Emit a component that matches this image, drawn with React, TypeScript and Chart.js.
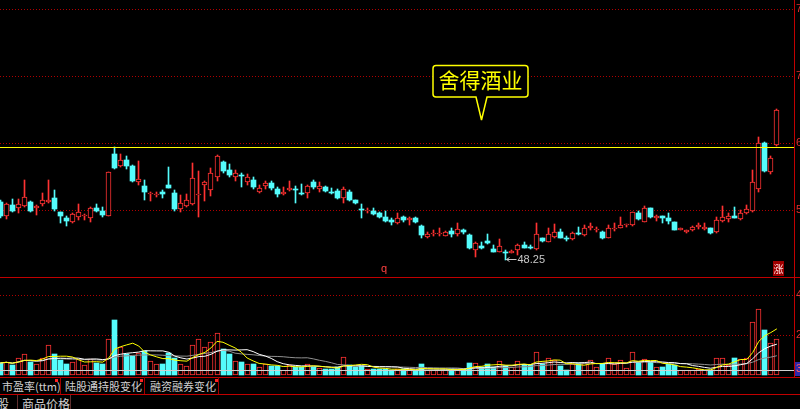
import React, { useEffect, useRef } from 'react';
import { Chart, registerables } from 'chart.js';

Chart.register(...registerables);

// ---------------- data ----------------
const OPEN = [
  55.5, 53.75, 55.13, 54.75, 55.0, 55.5, 54.75, 55.25, 55.56, 56.0,
  54.19, 53.5, 53.0, 53.63, 53.69, 53.5, 54.75, 54.38, 53.81, 61.5,
  60.0, 60.75, 60.0, 58.0, 57.5, 56.5, 56.38, 56.69, 57.63, 56.63,
  54.63, 55.0, 55.25, 56.44, 57.63, 57.0, 58.63, 60.5, 59.5, 58.63,
  58.88, 58.0, 58.25, 56.75, 57.5, 57.88, 57.13, 56.5, 57.0, 57.13,
  56.63, 56.63, 58.0, 57.13, 57.38, 56.75, 56.88, 56.0, 56.75, 55.75,
  54.63, 54.38, 54.38, 54.13, 53.63, 53.19, 52.88, 53.63, 53.25, 53.5,
  52.56, 51.13, 51.5, 51.5, 51.31, 51.88, 51.5, 52.0, 51.38, 49.5,
  50.0, 50.63, 49.63, 49.25, 49.31, 49.16, 49.5, 50.13, 49.91, 49.63,
  51.0, 50.5, 51.13, 51.75, 51.04, 50.88, 51.63, 51.38, 52.31, 52.0,
  51.75, 51.0, 52.13, 52.25, 52.63, 52.63, 54.13, 53.0, 54.75, 53.5,
  53.75, 53.5, 52.94, 52.0, 51.81, 51.94, 52.38, 52.13, 52.25, 51.69,
  53.13, 53.38, 53.69, 53.38, 54.13, 54.38, 57.13, 62.88, 59.25, 62.63,
];
const HIGH = [
  55.75, 55.38, 55.88, 55.88, 58.25, 55.63, 55.13, 56.63, 58.25, 57.0,
  54.25, 53.75, 54.13, 55.25, 53.94, 54.88, 55.25, 54.88, 59.25, 62.38,
  61.5, 61.25, 60.13, 60.63, 58.25, 56.75, 56.75, 57.0, 59.88, 57.0,
  56.38, 56.5, 60.38, 59.38, 58.13, 59.75, 61.38, 60.63, 60.25, 59.5,
  59.13, 59.0, 58.63, 57.63, 58.13, 58.13, 57.38, 57.38, 58.13, 57.5,
  57.75, 57.63, 58.25, 58.0, 57.5, 57.25, 57.13, 57.38, 57.0, 55.81,
  55.25, 54.75, 54.75, 54.25, 54.38, 53.5, 54.13, 53.69, 53.63, 53.63,
  52.63, 51.75, 52.0, 52.25, 51.88, 52.25, 52.88, 52.13, 51.44, 50.5,
  50.5, 51.5, 50.13, 50.88, 49.5, 49.44, 50.25, 50.5, 50.13, 52.88,
  51.06, 52.25, 52.75, 52.13, 51.25, 51.69, 52.38, 52.63, 52.88, 52.41,
  51.88, 52.63, 52.88, 53.63, 52.81, 54.25, 54.38, 55.0, 54.81, 53.88,
  53.81, 54.13, 53.0, 52.31, 52.06, 52.44, 52.88, 52.88, 52.31, 53.63,
  55.0, 54.13, 54.88, 54.5, 55.13, 59.5, 63.63, 62.94, 61.25, 67.13,
];
const LOW = [
  53.5, 53.38, 54.25, 54.13, 54.88, 54.25, 53.88, 55.0, 55.38, 54.38,
  52.88, 52.5, 52.88, 53.25, 53.25, 53.0, 54.25, 53.63, 53.75, 59.63,
  59.88, 59.63, 58.0, 57.63, 55.75, 55.63, 56.13, 56.0, 57.25, 54.38,
  54.25, 54.88, 55.13, 53.63, 55.63, 56.25, 58.13, 59.13, 58.63, 58.13,
  57.38, 57.63, 57.13, 56.63, 57.13, 57.0, 56.13, 56.38, 56.88, 55.38,
  56.38, 56.0, 57.13, 56.75, 56.75, 56.5, 55.88, 55.38, 55.63, 55.25,
  53.5, 54.13, 53.88, 53.5, 53.0, 52.63, 52.75, 53.0, 52.63, 52.88,
  51.0, 51.0, 51.25, 51.25, 51.25, 51.13, 51.25, 51.5, 49.63, 48.63,
  49.63, 50.31, 49.19, 49.19, 48.25, 49.13, 48.88, 49.69, 49.63, 49.56,
  50.56, 50.44, 51.0, 50.94, 50.63, 50.81, 51.38, 51.31, 52.0, 51.75,
  50.88, 50.94, 51.88, 52.19, 52.38, 52.56, 53.31, 52.94, 53.56, 53.13,
  52.88, 52.75, 51.94, 51.94, 51.63, 51.88, 52.13, 52.06, 51.56, 51.63,
  53.06, 53.0, 53.5, 53.31, 54.06, 54.31, 56.75, 59.31, 59.0, 62.56,
];
const CLOSE = [
  53.75, 55.25, 54.38, 55.25, 56.13, 54.38, 55.0, 55.75, 55.69, 54.63,
  53.81, 53.13, 54.06, 54.25, 53.88, 54.75, 54.38, 53.88, 59.19, 59.75,
  60.75, 60.0, 58.13, 58.38, 56.75, 56.63, 56.56, 56.56, 57.31, 54.63,
  55.38, 55.75, 58.5, 56.56, 58.06, 59.13, 61.25, 59.38, 58.88, 59.13,
  58.75, 58.63, 57.38, 57.25, 57.88, 57.25, 56.5, 56.69, 57.25, 57.0,
  56.5, 57.5, 57.38, 57.5, 56.88, 56.63, 56.0, 57.13, 55.75, 55.38,
  54.5, 54.5, 54.0, 53.63, 53.13, 53.06, 53.5, 53.25, 53.5, 53.0,
  51.38, 51.5, 51.63, 51.63, 51.81, 51.5, 52.13, 51.75, 49.75, 50.38,
  49.75, 50.38, 49.25, 50.0, 49.13, 49.34, 50.13, 49.75, 49.71, 51.5,
  50.63, 51.5, 51.75, 51.0, 50.91, 51.63, 51.46, 52.25, 52.44, 52.13,
  51.0, 52.25, 52.25, 52.63, 52.75, 54.19, 53.38, 54.75, 53.63, 53.81,
  53.5, 53.13, 52.0, 52.19, 52.0, 52.38, 52.63, 52.38, 51.63, 53.31,
  53.63, 53.75, 53.56, 54.13, 54.63, 58.0, 62.88, 59.38, 61.0, 67.06,
];
const VOLUME = [
  0.6, 0.67, 0.5, 0.83, 1.05, 0.67, 0.55, 0.87, 1.48, 1.05,
  0.75, 0.55, 0.67, 0.78, 0.5, 0.8, 0.58, 0.55, 1.78, 2.75,
  1.42, 1.03, 0.97, 1.08, 1.2, 0.72, 0.55, 0.55, 1.08, 0.83,
  0.55, 0.45, 1.5, 1.78, 1.38, 1.67, 2.08, 1.28, 1.05, 0.7,
  0.67, 0.55, 0.55, 0.42, 0.55, 0.45, 0.45, 0.25, 0.5, 0.42,
  0.42, 0.55, 0.42, 0.37, 0.28, 0.28, 0.38, 0.92, 0.5, 0.42,
  0.45, 0.28, 0.32, 0.28, 0.32, 0.25, 0.28, 0.28, 0.28, 0.22,
  0.55, 0.25, 0.25, 0.25, 0.25, 0.32, 0.28, 0.28, 0.62, 0.62,
  0.38, 0.55, 0.38, 0.7, 0.45, 0.38, 0.72, 0.5, 0.5, 1.13,
  0.55, 0.83, 0.75, 0.45, 0.25, 0.55, 0.58, 0.62, 0.75, 0.38,
  0.55, 0.83, 0.55, 0.75, 0.33, 1.13, 0.67, 0.78, 0.67, 0.38,
  0.42, 0.55, 0.5, 0.25, 0.25, 0.25, 0.28, 0.25, 0.25, 0.87,
  0.87, 0.5, 0.83, 0.8, 0.87, 2.63, 3.28, 2.25, 1.58, 1.8,
];
const PRICE_TICKS = [54.5, 62.875, 71.25, 79.625];
const PRICE_MIN = 46.125;
const PRICE_MAX = 80.75;
const VOL_TICKS = [2, 4];
const VOL_MIN = -0.05;
const VOL_MAX = 4.75;
const MARK_PRICE = 62.34;
const VOL_REF = 0.25;
const TITLE = '舍得酒业';
const TABS_ROW1 = ['市盈率(ttm)', '陆股通持股变化', '融资融券变化'];
const TABS_ROW2 = ['股', '商品价格'];

// ---------------- style ----------------
const UP = '#ff3232';
const DOWN = '#54fcfc';
const GRID = '#b00000';
const TICK = '#e03030';
const LINE_RED = '#c00000';
const CJK = '"Noto Sans CJK SC", "Noto Sans", sans-serif';
const X_MIN = -0.05;
const X_MAX = 131.85;

const IDX = OPEN.map((_, i) => i);
const isUp = (i: number) => CLOSE[i] >= OPEN[i];

function movingAverage(values: number[], n: number) {
  return values.map((_, i) => {
    const w = values.slice(Math.max(0, i - n + 1), i + 1);
    return w.reduce((a, b) => a + b, 0) / w.length;
  });
}

const snapBars = {
  id: 'snapBars',
  beforeDatasetsDraw(chart: any) {
    chart.data.datasets.forEach((ds: any, di: number) => {
      const meta = chart.getDatasetMeta(di);
      if (meta.type !== 'bar') return;
      meta.data.forEach((el: any) => {
        el.x = Math.round(el.x - 0.5) + 0.5;
        el.y = Math.round(el.y);
        el.base = Math.round(el.base);
        if (ds.label === 'body' && Math.abs(el.base - el.y) < 1) el.base = el.y + 1;
      });
    });
  },
};

const priceExtras = {
  id: 'priceExtras',
  afterDatasetsDraw(chart: any) {
    const { ctx, chartArea, scales } = chart;
    ctx.save();
    const y = Math.round(scales.y.getPixelForValue(MARK_PRICE)) + 0.5;
    ctx.strokeStyle = '#ffff00';
    ctx.lineWidth = 1;
    ctx.beginPath();
    ctx.moveTo(chartArea.left, y);
    ctx.lineTo(chartArea.right, y);
    ctx.stroke();

    const lowVal = Math.min(...LOW);
    const li = LOW.indexOf(lowVal);
    const lx = Math.round(scales.x.getPixelForValue(li) - 0.5) + 0.5;
    const ly = Math.round(scales.y.getPixelForValue(lowVal)) - 0.5;
    ctx.strokeStyle = '#c8c8c8';
    ctx.fillStyle = '#c8c8c8';
    ctx.beginPath();
    ctx.moveTo(lx + 1, ly);
    ctx.lineTo(lx + 11, ly);
    ctx.moveTo(lx + 1, ly);
    ctx.lineTo(lx + 4, ly - 2);
    ctx.moveTo(lx + 1, ly);
    ctx.lineTo(lx + 4, ly + 2);
    ctx.stroke();
    ctx.font = '11px "Liberation Sans", Arial, sans-serif';
    ctx.textBaseline = 'middle';
    ctx.textAlign = 'left';
    ctx.fillText(lowVal.toFixed(2), lx + 12, ly);
    ctx.restore();
  },
};

const volExtras = {
  id: 'volExtras',
  afterDatasetsDraw(chart: any) {
    const { ctx, chartArea, scales } = chart;
    const y = Math.round(scales.y.getPixelForValue(VOL_REF)) + 0.5;
    ctx.save();
    ctx.strokeStyle = '#d0d0d0';
    ctx.lineWidth = 1;
    ctx.beginPath();
    ctx.moveTo(chartArea.left, y);
    ctx.lineTo(chartArea.right, y);
    ctx.stroke();
    ctx.restore();
  },
};

function yAxis(min: number, max: number, ticks: number[], fmt: (v: number) => string) {
  return {
    type: 'linear',
    position: 'right',
    min,
    max,
    afterBuildTicks: (s: any) => {
      s.ticks = ticks.map((v) => ({ value: v }));
    },
    afterFit: (s: any) => {
      s.width = 6;
      s.paddingTop = 0;
      s.paddingBottom = 0;
    },
    grid: { color: GRID, drawTicks: false, lineWidth: 1 },
    border: { display: false, dash: [1, 2] },
    ticks: {
      color: TICK,
      padding: 2,
      font: { size: 11, family: '"Liberation Sans", Arial, sans-serif' },
      callback: (v: any) => fmt(Number(v)),
    },
  };
}

const xAxis = { type: 'linear', display: false, min: X_MIN, max: X_MAX, offset: false };

export default function App() {
  const priceRef = useRef<HTMLCanvasElement>(null);
  const volRef = useRef<HTMLCanvasElement>(null);

  useEffect(() => {
    const pc = new Chart(priceRef.current as HTMLCanvasElement, {
      type: 'bar',
      data: {
        datasets: [
          {
            label: 'body',
            data: IDX.map((i) => ({ x: i, y: [OPEN[i], CLOSE[i]] })),
            backgroundColor: (c: any) => (isUp(c.dataIndex) ? '#000000' : DOWN),
            borderColor: (c: any) => (isUp(c.dataIndex) ? UP : DOWN),
            borderWidth: (c: any) => (isUp(c.dataIndex) ? 1 : 0),
            borderSkipped: false,
            grouped: false,
            barPercentage: 1,
            categoryPercentage: 1,
            maxBarThickness: 5,
          },
          {
            label: 'wick',
            data: IDX.map((i) => ({ x: i, y: [LOW[i], HIGH[i]] })),
            backgroundColor: (c: any) => (isUp(c.dataIndex) ? UP : DOWN),
            borderWidth: 0,
            grouped: false,
            barPercentage: 1,
            categoryPercentage: 1,
            maxBarThickness: 1,
          },
        ],
      } as any,
      options: {
        animation: false,
        responsive: false,
        events: [],
        layout: { padding: 0 },
        plugins: { legend: { display: false }, tooltip: { enabled: false } },
        scales: {
          x: xAxis,
          y: yAxis(PRICE_MIN, PRICE_MAX, PRICE_TICKS, (v) => v.toFixed(2)),
        } as any,
      },
      plugins: [snapBars, priceExtras],
    });

    const vc = new Chart(volRef.current as HTMLCanvasElement, {
      type: 'bar',
      data: {
        datasets: [
          {
            type: 'line',
            label: 'MA5',
            data: movingAverage(VOLUME, 5).map((v, i) => ({ x: i, y: v })),
            borderColor: '#ffff00',
            borderWidth: 1,
            pointRadius: 0,
            order: 1,
          },
          {
            type: 'line',
            label: 'MA10',
            data: movingAverage(VOLUME, 10).map((v, i) => ({ x: i, y: v })),
            borderColor: '#ffffff',
            borderWidth: 1,
            pointRadius: 0,
            order: 1,
          },
          {
            type: 'line',
            label: 'MA20',
            data: movingAverage(VOLUME, 20).map((v, i) => ({ x: i, y: v })),
            borderColor: '#909090',
            borderWidth: 1,
            pointRadius: 0,
            order: 1,
          },
          {
            type: 'bar',
            label: 'volume',
            data: IDX.map((i) => ({ x: i, y: VOLUME[i] })),
            backgroundColor: (c: any) => (isUp(c.dataIndex) ? '#000000' : DOWN),
            borderColor: (c: any) => (isUp(c.dataIndex) ? UP : DOWN),
            borderWidth: (c: any) => (isUp(c.dataIndex) ? 1 : 0),
            borderSkipped: false,
            grouped: false,
            barPercentage: 1,
            categoryPercentage: 1,
            maxBarThickness: 5,
            order: 2,
          },
        ],
      } as any,
      options: {
        animation: false,
        responsive: false,
        events: [],
        layout: { padding: 0 },
        plugins: { legend: { display: false }, tooltip: { enabled: false } },
        scales: {
          x: xAxis,
          y: yAxis(VOL_MIN, VOL_MAX, VOL_TICKS, (v) => String(Math.round(v))),
        } as any,
      },
      plugins: [snapBars, volExtras],
    });

    return () => {
      pc.destroy();
      vc.destroy();
    };
  }, []);

  const abs = (s: React.CSSProperties): React.CSSProperties => ({ position: 'absolute', ...s });
  const tabText: React.CSSProperties = {
    position: 'absolute',
    fontFamily: CJK,
    fontSize: 11,
    lineHeight: '16px',
    color: '#d0d0d0',
    whiteSpace: 'nowrap',
  };

  return (
    <div style={{ position: 'relative', width: 800, height: 409, background: '#000', overflow: 'hidden' }}>
      <style>{`html,body{margin:0;padding:0;background:#000;}`}</style>
      <canvas ref={priceRef} width={800} height={277} style={abs({ left: 0, top: 0, display: 'block' })} />
      <canvas ref={volRef} width={800} height={96} style={abs({ left: 0, top: 280, display: 'block' })} />

      {/* panel borders */}
      <div style={abs({ left: 0, top: 277, width: 800, height: 1, background: LINE_RED })} />
      <div style={abs({ left: 0, top: 377, width: 800, height: 1, background: LINE_RED })} />
      <div style={abs({ left: 0, top: 394, width: 800, height: 1, background: LINE_RED })} />
      <div style={abs({ left: 794, top: 0, width: 1, height: 378, background: LINE_RED })} />

      {/* callout */}
      <svg width={800} height={140} style={abs({ left: 0, top: 0 })}>
        <path
          d="M436,65.5 H525 Q528,65.5 528,68.5 V94 Q528,97 525,97 H487 L481.5,120 L476,97 H436 Q433,97 433,94 V68.5 Q433,65.5 436,65.5 Z"
          fill="#000"
          stroke="#ffff00"
          strokeWidth={1.5}
        />
        <text x={480.5} y={88} textAnchor="middle" fontSize={21} fill="#ffff00" fontFamily={CJK}>
          {TITLE}
        </text>
      </svg>

      {/* small markers */}
      <span style={abs({ left: 381, top: 262, fontSize: 11, color: '#ff4040', fontFamily: '"Liberation Sans", Arial' })}>q</span>
      <div
        style={abs({
          left: 773,
          top: 261,
          width: 11,
          height: 15,
          background: '#a00000',
          color: '#ffe0e0',
          fontSize: 10,
          lineHeight: '15px',
          textAlign: 'center',
          fontFamily: CJK,
        })}
      >
        涨
      </div>
      <div style={abs({ left: 795, top: 362, width: 5, height: 14, background: '#3028a8' })} />
      <span style={abs({ left: 796, top: 361, fontSize: 11, lineHeight: '15px', color: '#ff6060', fontFamily: '"Liberation Sans", Arial' })}>3</span>

      {/* tabs row 1 */}
      <span style={{ ...tabText, left: 2, top: 378 }}>{TABS_ROW1[0]}</span>
      <span style={{ ...tabText, left: 65, top: 378 }}>{TABS_ROW1[1]}</span>
      <span style={{ ...tabText, left: 150, top: 378 }}>{TABS_ROW1[2]}</span>
      <div style={abs({ left: 60, top: 377, width: 1, height: 17, background: '#a00000' })} />
      <div style={abs({ left: 144, top: 377, width: 1, height: 17, background: '#a00000' })} />
      <div style={abs({ left: 218, top: 377, width: 1, height: 17, background: '#a00000' })} />
      <div style={abs({ left: 55, top: 379, width: 3, height: 3, background: '#ff2020' })} />
      <div style={abs({ left: 140, top: 379, width: 3, height: 3, background: '#ff2020' })} />
      <div style={abs({ left: 215, top: 379, width: 3, height: 3, background: '#ff2020' })} />

      {/* tabs row 2 */}
      <span style={{ ...tabText, left: -3, top: 396, fontSize: 12 }}>{TABS_ROW2[0]}</span>
      <span style={{ ...tabText, left: 22, top: 396, fontSize: 12 }}>{TABS_ROW2[1]}</span>
      <div style={abs({ left: 17, top: 395, width: 1, height: 14, background: '#603030' })} />
      <div style={abs({ left: 70, top: 395, width: 1, height: 14, background: '#603030' })} />
    </div>
  );
}
